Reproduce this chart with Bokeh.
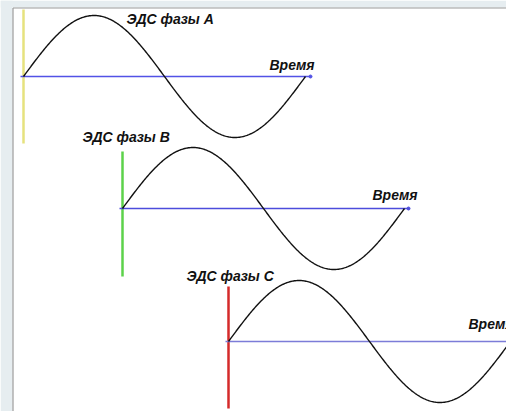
import numpy as np
from bokeh.plotting import figure
from bokeh.models import Range1d
from bokeh.core.properties import value
from bokeh.embed import file_html
from bokeh.resources import INLINE

# ---- data ----
phases = ["A", "B", "C"]
phase_labels = ["ЭДС фазы A", "ЭДС фазы B", "ЭДС фазы C"]
time_label = "Время"
axis_colors = ["#e6e27e", "#5cd24a", "#d42a2a"]
time_axis_colors = ["#5252e6", "#4c4cdc", "#7c7cd8"]

# ---- layout (pixel-like units of the drawing) ----
origin_x = [23, 122, 228]
zero_y = [76, 208, 341]
period = 282
amplitude = 61
vaxis_top = [9, 151, 286]
vaxis_bottom = [143, 276, 408]
taxis_start = [20, 119, 225]
taxis_end = [310, 408, 520]
label_pos = [(126, 18), (82, 136), (186, 275)]
time_pos = [(269, 64), (372, 194), (468, 323)]

W, H = 506, 411
p = figure(width=W, height=H, output_backend="svg", toolbar_location=None,
           x_range=Range1d(0, W), y_range=Range1d(H, 0),
           min_border=0, background_fill_color="white", border_fill_color="white",
           outline_line_color=None)
p.axis.visible = False
p.grid.visible = False

# page frame: light band on top and left with a gray border line
p.quad(left=[0], right=[W], bottom=[7], top=[0], fill_color="#e6edf0", line_color=None)
p.quad(left=[0], right=[12], bottom=[H], top=[0], fill_color="#e6edf0", line_color=None)
p.line([12.5, 12.5], [7.5, H], line_color="#9a9a9a", line_width=1.2)
p.line([12.5, W], [7.5, 7.5], line_color="#9a9a9a", line_width=1.2)

t = np.linspace(0, 2 * np.pi, 300)
for i, ph in enumerate(phases):
    ox, zy = origin_x[i], zero_y[i]
    # vertical (EMF) axis
    p.line([ox, ox], [vaxis_top[i], vaxis_bottom[i]], line_color=axis_colors[i], line_width=2.5)
    # time axis
    p.line([taxis_start[i], taxis_end[i]], [zy, zy], line_color=time_axis_colors[i], line_width=1.6)
    if i < 2:
        p.scatter([taxis_end[i]], [zy], size=3, color=time_axis_colors[i])
    # sine wave
    xs = ox + t / (2 * np.pi) * period
    ys = zy - amplitude * np.sin(t)
    p.line(xs, ys, line_color="#111111", line_width=1.4)
    # labels
    lx, ly = label_pos[i]
    p.text([lx], [ly], text=[phase_labels[i]], text_font=value("Liberation Sans"),
           text_font_style="bold italic", text_font_size="14px", text_color="#111111",
           text_baseline="alphabetic", text_align="left")
    tx, ty = time_pos[i]
    p.text([tx], [ty], text=[time_label], text_font=value("Liberation Sans"),
           text_font_style="bold italic", text_font_size="14px", text_color="#111111",
           text_baseline="alphabetic", text_align="left")

open("out.html", "w").write(file_html(p, INLINE))
